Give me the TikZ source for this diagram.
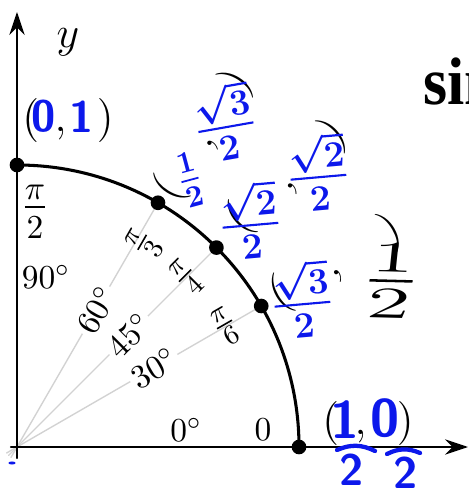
\documentclass[tikz,border=0pt]{standalone}
\usepackage{amsmath,amssymb}
\usepackage{fontspec}
\newfontfamily\slidefont{Liberation Serif}
\usetikzlibrary{arrows.meta}
\definecolor{inkblue}{RGB}{12,24,235}
\newcommand{\blankpair}{$(\hspace{5pt},\hspace{7.5pt})$}
\newcommand{\widepair}{$(\hspace{15pt},\hspace{15pt})$}

\begin{document}
\begin{tikzpicture}[x=0.327pt,y=0.327pt,>={Stealth[length=7.5pt,width=5pt]},line cap=round,
  font=\fontsize{11}{13.5}\selectfont,
  ray/.style={gray!35,line width=0.45pt},
  deglabel/.style={fill=white,inner sep=1pt},
  radlabel/.style={font=\fontsize{13}{16}\selectfont,inner sep=0pt},
  pairlabel/.style={font=\Large,inner sep=0pt},
  hand/.style={text=inkblue,inner sep=0pt,font=\LARGE\boldmath},
  handdigit/.style={hand,font=\Large\sffamily\bfseries},
  handbar/.style={inkblue,line width=1.4pt}]
\useasboundingbox (-17,-47) rectangle (451,447);
\clip (-17,-47) rectangle (451,447);
\coordinate (O) at (0,0);
\foreach \a in {0,30,45,60,90} \coordinate (p\a) at (\a:282);
% rays and angle labels
\foreach \a in {30,45,60} \draw[ray] ({\a+180}:12) -- (p\a);
\node[deglabel,rotate=30] (d30) at (30:158) {$30^\circ$};
\node[deglabel,rotate=45] (d45) at (45:158) {$45^\circ$};
\node[deglabel,rotate=60] (d60) at (60:158) {$60^\circ$};
\node[radlabel,rotate=30] (r30) at (30:241) {$\frac{\pi}{6}$};
\node[radlabel,rotate=45] (r45) at (45:240) {$\frac{\pi}{4}$};
\node[radlabel,rotate=60] (r60) at (58:240) {$\frac{\pi}{3}$};
\node[radlabel,font=\fontsize{16}{19}\selectfont] (r90) at (18,235) {$\frac{\pi}{2}$};
\node (r0) at (246,17) {$0$};
\node (d90) at (29,170) {$90^\circ$};
\node (d0) at (169,17) {$0^\circ$};
% axes
\draw[line width=0.75pt,->] (-6,0) -- (451,0);
\draw[line width=0.75pt,->] (0,-11) -- (0,435);
\node[font=\Large] (ylab) at (51,405) {$y$};
% quarter circle
\draw[line width=1pt] (p0) arc[start angle=0,end angle=90,radius=282];
\foreach \a in {0,30,45,60,90} \fill (p\a) circle (2.4pt);
% blank coordinate pairs
\node[pairlabel] (c90) at (51,327) {\blankpair};
\node[pairlabel] (c0) at (351,24) {\blankpair};
\node[pairlabel,rotate=58] (c60) at (59:363) {\widepair};
\node[pairlabel,rotate=42] (c45) at (45:382) {\widepair};
\node[pairlabel,rotate=30] (c30) at (30:368) {\widepair};
\node[anchor=base west,inner sep=0pt,xscale=0.92,font=\fontsize{22}{26}\selectfont\slidefont\bfseries] (sinword) at (406,342) {sin};
% handwritten answers
\node[handdigit] (h90x) at (27,331) {0};
\node[handdigit] (h90y) at (65,330) {1};
\node[hand,font=\Large\boldmath,rotate=15] (h60x) at (173,267) {$\frac{1}{2}$};
\node[hand,rotate=10] (h60y) at (208,325) {$\frac{\sqrt{3}}{2}$};
\node[hand,rotate=5] (h45x) at (233,227) {$\frac{\sqrt{2}}{2}$};
\node[hand,rotate=5] (h45y) at (301,275) {$\frac{\sqrt{2}}{2}$};
\node[hand,rotate=5] (h30x) at (285,148) {$\frac{\sqrt{3}}{2}$};
\node[hand,text=black,font=\huge,xscale=2,rotate=-3] (h30y) at (374,166) {$\frac{1}{2}$};
\node[handdigit,font=\LARGE\sffamily\bfseries] (h0x) at (328,27) {1};
\node[handdigit] (h0xd) at (335,-23) {2};
\draw[handbar] (320,-3) to[bend left=25] (358,-4);
\node[handdigit,font=\LARGE\sffamily\bfseries] (h0y) at (368,29) {0};
\node[handdigit] (h0yd) at (389,-26) {2};
\draw[handbar] (370,-7) to[bend left=25] (403,-6);
\fill[inkblue] (-5,-16) ellipse (1.2pt and 0.5pt);
\end{tikzpicture}
\end{document}
